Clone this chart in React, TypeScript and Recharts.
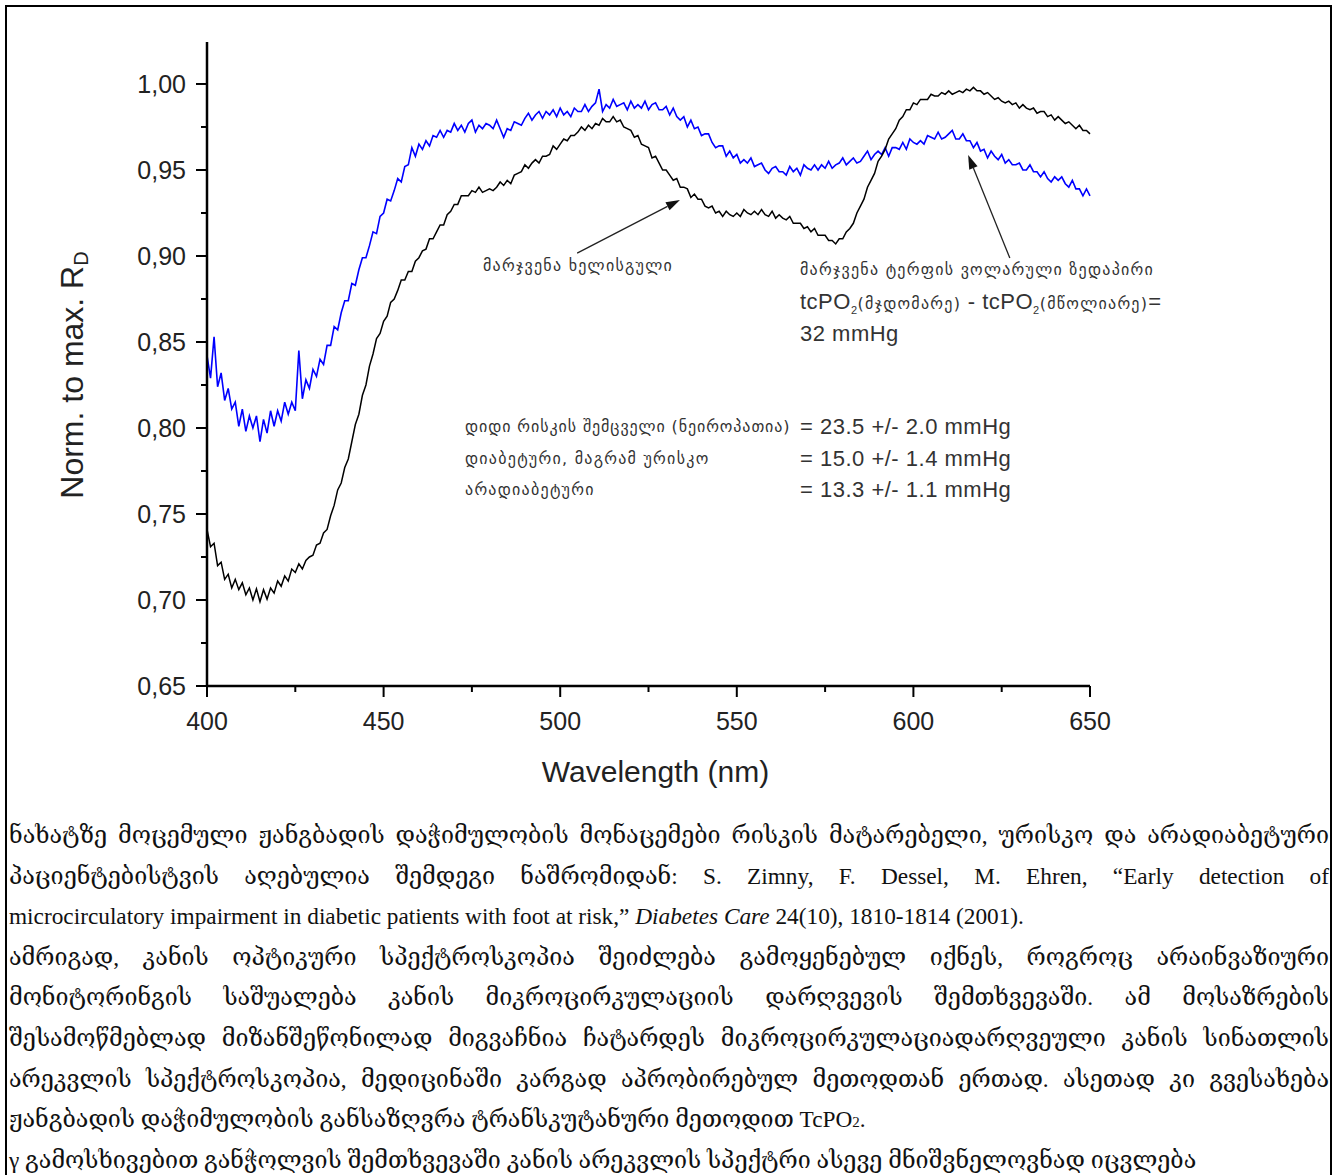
import { LineChart, Line, XAxis, YAxis, ReferenceLine, Label } from 'recharts';

// spectra sampled every 1 nm from 400 to 650 nm
const wavelengthStart = 400;
const wavelengthStep = 1;

// black: right palm
const palmSpectrum = [
  0.741, 0.731, 0.733, 0.720, 0.722, 0.712, 0.715, 0.707, 0.712, 0.706,
  0.710, 0.703, 0.707, 0.700, 0.7065, 0.699, 0.706, 0.7005, 0.707, 0.704,
  0.711, 0.708, 0.714, 0.711, 0.718, 0.716, 0.721, 0.718, 0.723, 0.725,
  0.726, 0.732, 0.733, 0.739, 0.741, 0.749, 0.755, 0.764, 0.768, 0.777,
  0.782, 0.792, 0.802, 0.808, 0.819, 0.825, 0.836, 0.843, 0.852, 0.855,
  0.862, 0.865, 0.873, 0.875, 0.880, 0.886, 0.886, 0.891, 0.891, 0.897,
  0.899, 0.903, 0.904, 0.910, 0.910, 0.914, 0.918, 0.918, 0.924, 0.926,
  0.930, 0.930, 0.935, 0.935, 0.935, 0.938, 0.937, 0.940, 0.937, 0.938,
  0.939, 0.938, 0.940, 0.943, 0.941, 0.944, 0.942, 0.947, 0.948, 0.949,
  0.953, 0.951, 0.954, 0.956, 0.954, 0.958, 0.958, 0.959, 0.964, 0.962,
  0.965, 0.968, 0.967, 0.970, 0.970, 0.972, 0.975, 0.973, 0.976, 0.974,
  0.977, 0.976, 0.980, 0.978, 0.978, 0.981, 0.978, 0.979, 0.975, 0.974,
  0.973, 0.969, 0.970, 0.965, 0.964, 0.963, 0.957, 0.958, 0.954, 0.950,
  0.950, 0.947, 0.944, 0.945, 0.940, 0.940, 0.939, 0.934, 0.936, 0.933,
  0.933, 0.929, 0.928, 0.929, 0.925, 0.926, 0.923, 0.926, 0.924, 0.923,
  0.925, 0.923, 0.927, 0.925, 0.924, 0.926, 0.924, 0.927, 0.924, 0.923,
  0.926, 0.922, 0.924, 0.922, 0.921, 0.923, 0.919, 0.919, 0.919, 0.916,
  0.917, 0.914, 0.916, 0.912, 0.912, 0.912, 0.909, 0.909, 0.907, 0.910,
  0.910, 0.914, 0.916, 0.919, 0.925, 0.929, 0.933, 0.940, 0.944, 0.948,
  0.955, 0.958, 0.962, 0.968, 0.971, 0.974, 0.979, 0.981, 0.985, 0.985,
  0.989, 0.988, 0.991, 0.991, 0.991, 0.994, 0.993, 0.993, 0.995, 0.994,
  0.996, 0.994, 0.995, 0.996, 0.995, 0.997, 0.996, 0.998, 0.996, 0.996,
  0.994, 0.995, 0.993, 0.991, 0.992, 0.990, 0.989, 0.990, 0.988, 0.989,
  0.986, 0.988, 0.986, 0.985, 0.986, 0.983, 0.984, 0.984, 0.981, 0.982,
  0.979, 0.981, 0.979, 0.977, 0.978, 0.976, 0.974, 0.976, 0.973, 0.973,
  0.971,
];

// blue: right foot, volar surface
const footSpectrum = [
  0.842, 0.829, 0.853, 0.824, 0.832, 0.816, 0.823, 0.811, 0.815, 0.801,
  0.811, 0.798, 0.807, 0.800, 0.807, 0.792, 0.805, 0.797, 0.810, 0.801,
  0.810, 0.804, 0.815, 0.808, 0.815, 0.810, 0.845, 0.817, 0.828, 0.823,
  0.834, 0.830, 0.840, 0.837, 0.848, 0.848, 0.859, 0.857, 0.867, 0.874,
  0.874, 0.884, 0.883, 0.892, 0.899, 0.899, 0.906, 0.914, 0.913, 0.923,
  0.925, 0.933, 0.932, 0.938, 0.945, 0.943, 0.952, 0.953, 0.963, 0.958,
  0.965, 0.962, 0.967, 0.964, 0.970, 0.969, 0.973, 0.969, 0.973, 0.972,
  0.977, 0.973, 0.976, 0.972, 0.977, 0.979, 0.972, 0.976, 0.974, 0.977,
  0.976, 0.974, 0.979, 0.974, 0.969, 0.974, 0.973, 0.978, 0.977, 0.976,
  0.980, 0.983, 0.979, 0.982, 0.984, 0.980, 0.984, 0.982, 0.985, 0.981,
  0.986, 0.982, 0.984, 0.981, 0.986, 0.984, 0.984, 0.988, 0.984, 0.987,
  0.989, 0.997, 0.984, 0.988, 0.986, 0.991, 0.987, 0.988, 0.989, 0.985,
  0.990, 0.986, 0.988, 0.986, 0.990, 0.985, 0.988, 0.989, 0.985, 0.985,
  0.987, 0.982, 0.986, 0.981, 0.979, 0.981, 0.975, 0.979, 0.974, 0.975,
  0.970, 0.971, 0.971, 0.966, 0.963, 0.964, 0.964, 0.958, 0.961, 0.957,
  0.959, 0.954, 0.956, 0.954, 0.957, 0.952, 0.953, 0.954, 0.950, 0.948,
  0.951, 0.952, 0.949, 0.949, 0.947, 0.952, 0.949, 0.951, 0.947, 0.953,
  0.951, 0.950, 0.953, 0.950, 0.953, 0.951, 0.955, 0.951, 0.953, 0.954,
  0.957, 0.953, 0.955, 0.957, 0.954, 0.955, 0.958, 0.961, 0.956, 0.959,
  0.961, 0.959, 0.963, 0.958, 0.963, 0.963, 0.962, 0.966, 0.962, 0.968,
  0.966, 0.965, 0.967, 0.965, 0.970, 0.969, 0.968, 0.972, 0.968, 0.969,
  0.971, 0.973, 0.968, 0.968, 0.971, 0.967, 0.967, 0.963, 0.966, 0.961,
  0.962, 0.957, 0.961, 0.958, 0.956, 0.959, 0.954, 0.956, 0.953, 0.953,
  0.954, 0.950, 0.950, 0.953, 0.949, 0.949, 0.946, 0.949, 0.945, 0.943,
  0.946, 0.944, 0.946, 0.942, 0.940, 0.944, 0.939, 0.939, 0.935, 0.939,
  0.935,
];

const xMajorTicks = [400, 450, 500, 550, 600, 650];
const xMinorTicks = [425, 475, 525, 575, 625];
const yMajorTicks = [0.65, 0.7, 0.75, 0.8, 0.85, 0.9, 0.95, 1.0];
const yMinorTicks = [0.675, 0.725, 0.775, 0.825, 0.875, 0.925, 0.975];

// arrows, in data units: [from, to]
const palmArrow = [{ x: 504.8, y: 0.9017 }, { x: 533.9, y: 0.9326 }];
const footArrow = [{ x: 627.3, y: 0.8988 }, { x: 615.5, y: 0.9587 }];

const data = palmSpectrum.map((v, i) => ({
  wl: wavelengthStart + i * wavelengthStep,
  palm: v,
  foot: footSpectrum[i],
}));

const SANS = "'Liberation Sans', Arial, sans-serif";
const GEO = "'DejaVu Sans', sans-serif";

function YTick(props: any) {
  const { x, y, payload } = props;
  const major = yMajorTicks.includes(payload.value);
  return (
    <g>
      <line x1={x} x2={x - (major ? 11 : 6)} y1={y} y2={y} stroke="#000" strokeWidth={2} />
      {major && (
        <text x={x - 21} y={y} textAnchor="end" dominantBaseline="central" fontSize={25} fontFamily={SANS} fill="#222">
          {payload.value.toFixed(2).replace('.', ',')}
        </text>
      )}
    </g>
  );
}

function XTick(props: any) {
  const { x, y, payload } = props;
  const major = xMajorTicks.includes(payload.value);
  return (
    <g>
      <line x1={x} x2={x} y1={y} y2={y + (major ? 11 : 6)} stroke="#000" strokeWidth={2} />
      {major && (
        <text x={x} y={y + 35} textAnchor="middle" dominantBaseline="central" fontSize={25} fontFamily={SANS} fill="#222">
          {payload.value}
        </text>
      )}
    </g>
  );
}

function Arrow(props: any) {
  const { x1, y1, x2, y2 } = props;
  const ang = Math.atan2(y2 - y1, x2 - x1);
  const len = 14;
  const w = 4.5;
  const bx = x2 - len * Math.cos(ang);
  const by = y2 - len * Math.sin(ang);
  const px = -Math.sin(ang) * w;
  const py = Math.cos(ang) * w;
  return (
    <g>
      <line x1={x1} y1={y1} x2={bx} y2={by} stroke="#222" strokeWidth={1.3} />
      <polygon points={`${x2},${y2} ${bx + px},${by + py} ${bx - px},${by - py}`} fill="#111" />
    </g>
  );
}

function YTitle(props: any) {
  const { viewBox } = props;
  const cx = 72;
  const cy = viewBox.y + viewBox.height / 2 + 11;
  return (
    <text transform={`translate(${cx},${cy}) rotate(-90)`} textAnchor="middle" dominantBaseline="central" fontSize={32} fontFamily={SANS} fill="#222">
      Norm. to max. R
      <tspan fontSize={20} dy={9}>D</tspan>
    </text>
  );
}

function XTitle(props: any) {
  const { viewBox } = props;
  return (
    <text x={viewBox.x + viewBox.width / 2 + 7} y={viewBox.y + 85} textAnchor="middle" dominantBaseline="central" fontSize={30} fontFamily={SANS} fill="#222">
      Wavelength (nm)
    </text>
  );
}

const annoGeo: React.CSSProperties = { fontFamily: GEO, fontSize: 16, letterSpacing: 1.25, color: '#333', whiteSpace: 'nowrap' };
const annoNum: React.CSSProperties = { fontFamily: SANS, fontSize: 22, letterSpacing: 0.5, color: '#333', whiteSpace: 'nowrap' };
const annoRow: React.CSSProperties = { height: 32, lineHeight: '32px', whiteSpace: 'nowrap' };
const annoRow3: React.CSSProperties = { height: 31.5, lineHeight: '31.5px', whiteSpace: 'nowrap' };

const lineStyle: React.CSSProperties = {
  whiteSpace: 'nowrap',
  height: 40.6,
  lineHeight: '40.6px',
};
const justified: React.CSSProperties = { ...lineStyle, textAlign: 'justify', textAlignLast: 'justify' };

export default function App() {
  return (
    <div style={{ position: 'relative', width: 1338, height: 1175, overflow: 'hidden', background: '#fff' }}>
      <style>{'body{margin:0}'}</style>
      <div style={{ position: 'absolute', left: 5, top: 5, width: 1323, height: 1200, border: '2px solid #000' }} />

      <div style={{ position: 'absolute', left: 0, top: 0 }}>
        <LineChart width={1338} height={800} data={data} margin={{ top: 42, right: 248, left: 107, bottom: 54 }}>
          <XAxis
            dataKey="wl"
            type="number"
            domain={[400, 650]}
            ticks={[...xMajorTicks, ...xMinorTicks].sort((a, b) => a - b)}
            interval={0}
            tickSize={0}
            tickMargin={0}
            tickLine={false}
            tick={<XTick />}
            axisLine={{ stroke: '#000', strokeWidth: 2.5 }}
            height={60}
          >
            <Label content={<XTitle />} />
          </XAxis>
          <YAxis
            type="number"
            domain={[0.65, 1.0244]}
            allowDataOverflow
            ticks={[...yMajorTicks, ...yMinorTicks].sort((a, b) => a - b)}
            interval={0}
            tickSize={0}
            tickMargin={0}
            tickLine={false}
            tick={<YTick />}
            axisLine={{ stroke: '#000', strokeWidth: 2.5 }}
            width={100}
          >
            <Label content={<YTitle />} />
          </YAxis>
          <Line dataKey="foot" stroke="#0000ff" strokeWidth={1.6} dot={false} type="linear" isAnimationActive={false} />
          <Line dataKey="palm" stroke="#000" strokeWidth={1.5} dot={false} type="linear" isAnimationActive={false} />
          <ReferenceLine segment={palmArrow} shape={Arrow} ifOverflow="visible" />
          <ReferenceLine segment={footArrow} shape={Arrow} ifOverflow="visible" />
        </LineChart>
      </div>

      {/* annotations */}
      <div style={{ ...annoGeo, ...annoRow, position: 'absolute', left: 483, top: 250 }}>მარჯვენა ხელისგული</div>

      <div style={{ position: 'absolute', left: 800, top: 254 }}>
        <div style={{ ...annoRow, ...annoGeo }}>მარჯვენა ტერფის ვოლარული ზედაპირი</div>
        <div style={{ ...annoRow, ...annoNum }}>
          tcPO<sub style={{ fontSize: 11, lineHeight: 0 }}>2</sub>
          <span style={annoGeo}>(მჯდომარე)</span> - tcPO<sub style={{ fontSize: 11, lineHeight: 0 }}>2</sub>
          <span style={annoGeo}>(მწოლიარე)</span>=
        </div>
        <div style={{ ...annoRow, ...annoNum }}>32 mmHg</div>
      </div>

      <div style={{ position: 'absolute', left: 465, top: 411 }}>
        <div style={{ ...annoRow3, ...annoGeo, letterSpacing: 0.9 }}>დიდი რისკის შემცველი (ნეიროპათია)</div>
        <div style={{ ...annoRow3, ...annoGeo }}>დიაბეტური, მაგრამ ურისკო</div>
        <div style={{ ...annoRow3, ...annoGeo }}>არადიაბეტური</div>
      </div>
      <div style={{ position: 'absolute', left: 800, top: 411 }}>
        <div style={{ ...annoRow3, ...annoNum }}>= 23.5 +/- 2.0 mmHg</div>
        <div style={{ ...annoRow3, ...annoNum }}>= 15.0 +/- 1.4 mmHg</div>
        <div style={{ ...annoRow3, ...annoNum }}>= 13.3 +/- 1.1 mmHg</div>
      </div>

      {/* caption text */}
      <div
        style={{
          position: 'absolute',
          left: 9,
          top: 815,
          width: 1320,
          fontFamily: "'Liberation Serif', 'DejaVu Serif', serif",
          fontSize: 23.3,
          color: '#111',
        }}
      >
        <div style={justified}>ნახატზე მოცემული ჟანგბადის დაჭიმულობის მონაცემები რისკის მატარებელი, ურისკო და არადიაბეტური</div>
        <div style={justified}>პაციენტებისტვის აღებულია შემდეგი ნაშრომიდან: S. Zimny, F. Dessel, M. Ehren, “Early detection of</div>
        <div style={lineStyle}>
          microcirculatory impairment in diabetic patients with foot at risk,” <i>Diabetes Care</i> 24(10), 1810-1814 (2001).
        </div>
        <div style={justified}>ამრიგად, კანის ოპტიკური სპექტროსკოპია შეიძლება გამოყენებულ იქნეს, როგროც არაინვაზიური</div>
        <div style={justified}>მონიტორინგის საშუალება კანის მიკროცირკულაციის დარღვევის შემთხვევაში. ამ მოსაზრების</div>
        <div style={justified}>შესამოწმებლად მიზანშეწონილად მიგვაჩნია ჩატარდეს მიკროცირკულაციადარღვეული კანის სინათლის</div>
        <div style={justified}>არეკვლის სპექტროსკოპია, მედიცინაში კარგად აპრობირებულ მეთოდთან ერთად. ასეთად კი გვესახება</div>
        <div style={lineStyle}>
          ჟანგბადის დაჭიმულობის განსაზღვრა ტრანსკუტანური მეთოდით TcPO<span style={{ fontSize: 15 }}>2</span>.
        </div>
        <div style={lineStyle}>γ გამოსხივებით განჭოლვის შემთხვევაში კანის არეკვლის სპექტრი ასევე მნიშვნელოვნად იცვლება</div>
      </div>
    </div>
  );
}
